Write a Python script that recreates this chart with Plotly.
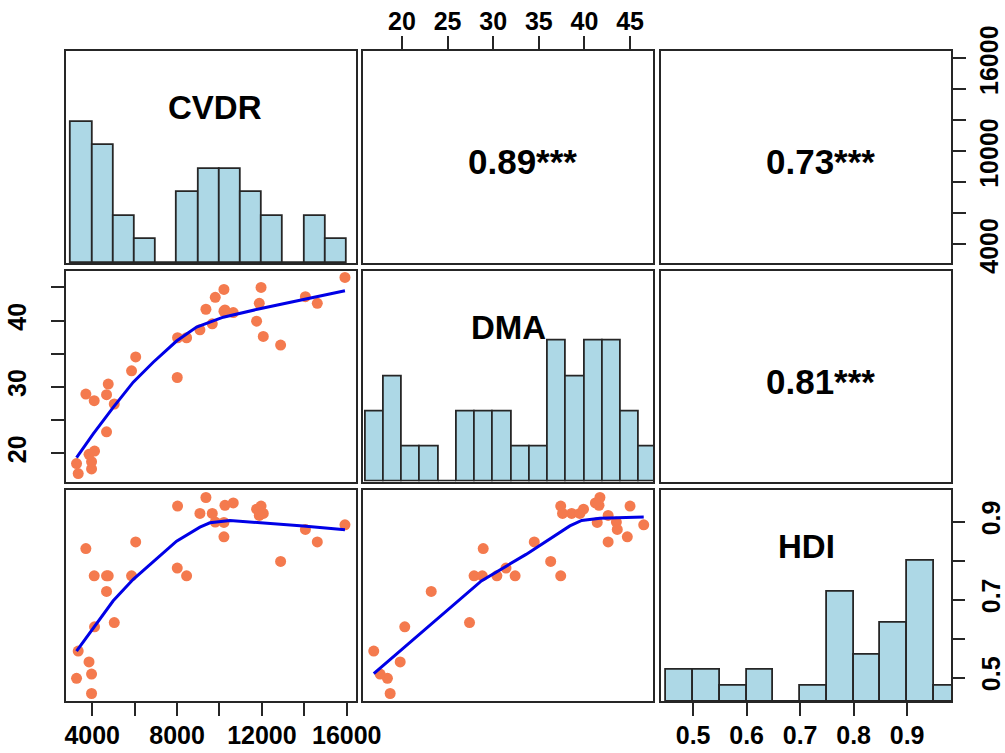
import numpy as np
import plotly.graph_objects as go

# ---------------- data ----------------
variables = ["CVDR", "DMA", "HDI"]

cvdr = [3340, 3261, 3969, 3969, 3850, 4110, 3701, 4094, 4755, 4676, 5040, 4676,
        5855, 6050, 8009, 8024, 8449, 9078, 9660, 9361, 9801, 10210, 10257, 10650,
        10210, 11750, 11876, 11960, 12064, 12882, 14050, 14611, 15915]
dma = [16.9, 18.4, 17.6, 18.7, 19.8, 20.3, 28.9, 27.9, 30.4, 28.8, 27.4, 23.2,
       32.4, 34.5, 31.4, 37.4, 37.4, 38.6, 39.5, 41.7, 43.5, 44.7, 41.6, 41.2,
       41.4, 39.9, 42.6, 45.0, 37.6, 36.3, 43.6, 42.6, 46.5]
hdi = [0.568, 0.498, 0.509, 0.459, 0.540, 0.630, 0.831, 0.761, 0.761, 0.761, 0.641, 0.721,
       0.761, 0.848, 0.781, 0.940, 0.761, 0.921, 0.921, 0.962, 0.899, 0.861, 0.942, 0.948,
       0.898, 0.932, 0.916, 0.940, 0.921, 0.798, 0.880, 0.848, 0.892]

# histogram bin edges
cvdr_bin_start, cvdr_bin_end, cvdr_bin_width = 3000, 16000, 1000
dma_bin_start, dma_bin_end, dma_bin_width = 16, 48, 2
hdi_bin_start, hdi_bin_end, hdi_bin_width = 0.45, 1.00, 0.05

# smoothed (lowess) lines
fit_cvdr_dma_x = [3261, 4047, 4990, 5934, 6877, 7977, 8920, 9549, 10178, 12064, 13951, 15915]
fit_cvdr_dma_y = [19.3, 22.9, 26.9, 30.7, 33.7, 36.9, 39.0, 39.8, 40.5, 41.9, 43.2, 44.5]
fit_cvdr_hdi_x = [3261, 4126, 4990, 5934, 7977, 9078, 9549, 10492, 12064, 13951, 15915]
fit_cvdr_hdi_y = [0.568, 0.633, 0.697, 0.752, 0.850, 0.886, 0.897, 0.903, 0.897, 0.889, 0.879]
fit_dma_hdi_x = [16.9, 20.0, 24.5, 28.7, 33.6, 38.4, 39.7, 41.7, 46.5]
fit_dma_hdi_y = [0.510, 0.573, 0.662, 0.748, 0.816, 0.889, 0.903, 0.909, 0.912]

# correlations (upper panels)
corr_cvdr_dma = 0.89
corr_cvdr_hdi = 0.73
corr_dma_hdi = 0.81
signif = "***"

# tick values / labels
cvdr_ticks = [4000, 6000, 8000, 10000, 12000, 14000, 16000]
cvdr_bottom_labels = ["4000", "", "8000", "", "12000", "", "16000"]
cvdr_right_labels = ["4000", "", "", "10000", "", "", "16000"]
dma_ticks = [20, 25, 30, 35, 40, 45]
dma_top_labels = ["20", "25", "30", "35", "40", "45"]
dma_left_labels = ["20", "", "30", "", "40", ""]
hdi_ticks = [0.5, 0.6, 0.7, 0.8, 0.9]
hdi_bottom_labels = ["0.5", "0.6", "0.7", "0.8", "0.9"]
hdi_right_labels = ["0.5", "", "0.7", "", "0.9"]

# ---------------- styling ----------------
W, H = 1005, 753
FONT = "Liberation Sans, Arial, Helvetica, sans-serif"
LC = "#262626"
PT = "#F47A4E"
HIST = "#ADD8E6"
LINE = "#0000E6"

ranges = {"CVDR": [2750, 16450], "DMA": [15.7, 47.55], "HDI": [0.44, 0.982]}
ranges_y = {"CVDR": [2750, 16450], "DMA": [15.7, 47.55], "HDI": [0.439, 0.982]}

col_px = [(65.7, 356.3), (362.8, 653.3), (661.0, 951.0)]
row_px = [(51.0, 263.0), (270.5, 481.5), (489.7, 701.3)]
xdom = [[a / W, b / W] for a, b in col_px]
ydom = [[1 - b / H, 1 - a / H] for a, b in row_px]

data = {"CVDR": np.array(cvdr), "DMA": np.array(dma), "HDI": np.array(hdi)}
bins = {
    "CVDR": (cvdr_bin_start, cvdr_bin_end, cvdr_bin_width),
    "DMA": (dma_bin_start, dma_bin_end, dma_bin_width),
    "HDI": (hdi_bin_start, hdi_bin_end, hdi_bin_width),
}

def aid(k):
    return "" if k == 1 else str(k)

fig = go.Figure()
layout = {}

tickfont = dict(family=FONT, size=25, color="black", weight="bold")

def base_axis(dom, rng, anchor):
    return dict(domain=dom, range=rng, anchor=anchor, showline=True, mirror=True,
                linecolor=LC, linewidth=2, showgrid=False, zeroline=False, automargin=False,
                ticks="", showticklabels=False, fixedrange=True)

for r in range(3):
    for c in range(3):
        k = 3 * r + c + 1
        xv, yv = variables[c], variables[r]
        xa = base_axis(xdom[c], ranges[xv], "y" + aid(k))
        if r == c:
            ya = base_axis(ydom[r], [0, 1.5], "x" + aid(k))
        else:
            ya = base_axis(ydom[r], ranges_y[yv], "x" + aid(k))
        layout["xaxis" + aid(k)] = xa
        layout["yaxis" + aid(k)] = ya
        xr, yr = "x" + aid(k), "y" + aid(k)
        if r == c:
            s, e, w = bins[xv]
            edges = np.arange(s, e + w / 2, w)
            counts, _ = np.histogram(data[xv], bins=edges)
            fig.add_trace(go.Bar(x=edges[:-1] + w / 2, y=counts / counts.max(), width=w,
                                 marker=dict(color=HIST, line=dict(color=LC, width=1.8)),
                                 xaxis=xr, yaxis=yr, showlegend=False, hoverinfo="skip"))
            fig.add_annotation(text="<b>%s</b>" % xv, xref=xr + " domain", yref=yr + " domain",
                               x=0.515 if xv == "CVDR" else 0.5, y=0.828, showarrow=False,
                               font=dict(family=FONT, size=33, color="black"))
        elif r > c:
            fig.add_trace(go.Scatter(x=data[xv], y=data[yv], mode="markers",
                                     marker=dict(color=PT, size=11, line=dict(width=0)),
                                     xaxis=xr, yaxis=yr, showlegend=False, hoverinfo="skip"))
        else:
            fig.add_trace(go.Scatter(x=[], y=[], xaxis=xr, yaxis=yr, showlegend=False))

# fitted lines
fig.add_trace(go.Scatter(x=fit_cvdr_dma_x, y=fit_cvdr_dma_y, mode="lines",
                         line=dict(color=LINE, width=3), xaxis="x4", yaxis="y4", showlegend=False))
fig.add_trace(go.Scatter(x=fit_cvdr_hdi_x, y=fit_cvdr_hdi_y, mode="lines",
                         line=dict(color=LINE, width=3), xaxis="x7", yaxis="y7", showlegend=False))
fig.add_trace(go.Scatter(x=fit_dma_hdi_x, y=fit_dma_hdi_y, mode="lines",
                         line=dict(color=LINE, width=3), xaxis="x8", yaxis="y8", showlegend=False))

# correlation texts
for k, val in [(2, corr_cvdr_dma), (3, corr_cvdr_hdi), (6, corr_dma_hdi)]:
    fig.add_annotation(text="<b>%.2f%s</b>" % (val, signif), xref="x%d domain" % k,
                       yref="y%d domain" % k, x=0.55, y=0.48 if k != 6 else 0.476,
                       showarrow=False, font=dict(family=FONT, size=35, color="black"))

tick_common = dict(ticks="outside", ticklen=13, tickwidth=2, tickcolor=LC,
                   showticklabels=True, tickfont=tickfont, tickmode="array")

# top axis of column 2 (DMA)
layout["xaxis2"].update(tick_common, side="top", tickvals=dma_ticks, ticktext=dma_top_labels,
                        ticklabelstandoff=-4)
# right axis of row 1 (CVDR)
layout["yaxis3"].update(tick_common, side="right", tickvals=cvdr_ticks, ticktext=cvdr_right_labels,
                        tickangle=-90, ticklabelstandoff=2, ticklabelshift=6)
# left axis of row 2 (DMA)
layout["yaxis4"].update(tick_common, side="left", tickvals=dma_ticks, ticktext=dma_left_labels,
                        tickangle=-90, ticklabelstandoff=15)
# bottom axis of column 1 (CVDR)
layout["xaxis7"].update(tick_common, side="bottom", tickvals=cvdr_ticks, ticktext=cvdr_bottom_labels,
                        ticklabelstandoff=-2)
# bottom axis of column 3 (HDI)
layout["xaxis9"].update(tick_common, side="bottom", tickvals=hdi_ticks, ticktext=hdi_bottom_labels,
                        ticklabelstandoff=-2)
# right axis of row 3 (HDI) on an overlay axis
layout["yaxis10"] = dict(tick_common, overlaying="y9", anchor="x9", side="right",
                         range=ranges_y["HDI"], tickvals=hdi_ticks, ticktext=hdi_right_labels,
                         tickangle=-90, ticklabelstandoff=5, showline=False, showgrid=False,
                         zeroline=False, fixedrange=True, automargin=False)
fig.add_trace(go.Scatter(x=[], y=[], xaxis="x9", yaxis="y10", showlegend=False))

fig.update_layout(**layout)
fig.update_layout(width=W, height=H, autosize=False, margin=dict(l=0, r=0, t=0, b=0, pad=0, autoexpand=False),
                  paper_bgcolor="white", plot_bgcolor="white", bargap=0, barmode="overlay",
                  font=dict(family=FONT, color="black"))

fig.write_html("out.html", config={"displayModeBar": False},
               post_script="document.body.style.margin='0';document.body.style.overflow='hidden';")
